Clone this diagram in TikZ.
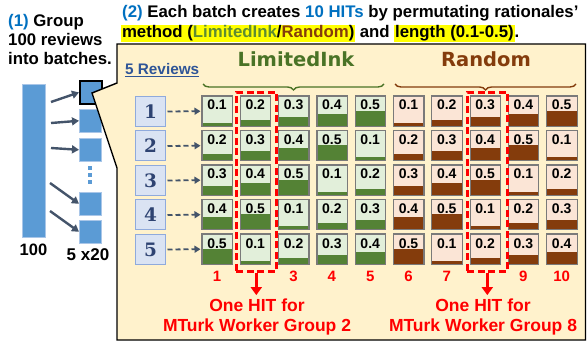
\documentclass[tikz,border=0pt]{standalone}
\usepackage{fontspec}
\setmainfont{Liberation Sans}
\newfontfamily\dvs{DejaVu Sans}
\newfontfamily\dvserif{DejaVu Serif}
\usetikzlibrary{decorations.pathreplacing,arrows.meta}
\newcommand\myfs[1]{\fontsize{#1}{#1}\selectfont}
\newcommand\myhl[1]{{\setlength\fboxsep{0.8pt}\colorbox{hlyellow}{#1}}}
\definecolor{tblue}{HTML}{0070C0}
\definecolor{barblue}{HTML}{5B9BD5}
\definecolor{arrgray}{HTML}{44546A}
\definecolor{callout}{HTML}{FFF2CC}
\definecolor{gdark}{HTML}{548235}
\definecolor{glight}{HTML}{E2EFDA}
\definecolor{bdark}{HTML}{843C0C}
\definecolor{blight}{HTML}{FBE5D6}
\definecolor{hgreen}{HTML}{4A7326}
\definecolor{ingreen}{HTML}{5E8C31}
\definecolor{revblue}{HTML}{2F5597}
\definecolor{rvfill}{HTML}{DAE3F3}
\definecolor{rvdraw}{HTML}{8FAADC}
\definecolor{rvtext}{HTML}{2E4372}
\definecolor{hlyellow}{HTML}{FFFF00}
\definecolor{cellgray}{HTML}{7A7A7A}
\definecolor{sqedge}{HTML}{A9C6E8}
\begin{document}
\begin{tikzpicture}[x=1pt,y=-1pt,
  ttl/.style={anchor=base west,inner sep=0pt,font=\bfseries\myfs{16.8}},
  sqbox/.style={fill=barblue,draw=sqedge,line width=0.6pt,minimum width=22pt,minimum height=23pt,inner sep=0pt,anchor=north west},
  bigarr/.style={draw=arrgray,line width=2.4pt,-{Triangle[length=7pt,width=8pt]}},
  revbox/.style={fill=rvfill,draw=rvdraw,line width=1pt,minimum width=30pt,minimum height=30pt,inner sep=0pt,anchor=north west,font=\dvserif\bfseries\myfs{18.5},text=rvtext},
  cellbox/.style={minimum width=30pt,minimum height=30pt,inner sep=0pt,anchor=north west},
  celltxt/.style={anchor=base,inner sep=0pt,font=\bfseries\myfs{14}},
  darr/.style={draw=arrgray,line width=1.8pt,dash pattern=on 5pt off 3pt,-{Triangle[length=6pt,width=7pt]},shorten <=1.5pt,shorten >=1.5pt},
  colnum/.style={anchor=base,inner sep=0pt,text=red,font=\bfseries\myfs{15}},
  hitbox/.style={draw=red,line width=2.6pt,dash pattern=on 7pt off 3.5pt,minimum width=40pt,minimum height=179pt,inner sep=0pt,anchor=north west},
  redarr/.style={draw=red,line width=3pt,-{Triangle[length=8pt,width=11pt]},shorten >=3pt},
  redtxt/.style={anchor=base,inner sep=0pt,text=red,font=\bfseries\myfs{17.5}},
  hdr/.style={anchor=base,inner sep=0pt,font=\dvs\bfseries\myfs{19.5}},
  brc/.style={decorate,decoration={brace,mirror,amplitude=6pt},line width=1.4pt}
]
\useasboundingbox (0,0) rectangle (587,342);
% left part
\node[ttl] (t1a) at (8,27) {{\color{tblue}(1)} Group};
\node[ttl] (t1b) at (8,46) {100 reviews};
\node[ttl] (t1c) at (8,65) {into batches.};
\node[fill=barblue,draw=sqedge,line width=0.6pt,minimum width=23pt,minimum height=153pt,inner sep=0pt,anchor=north west] (bar) at (22,84) {};
\node[anchor=base,inner sep=0pt,font=\bfseries\myfs{16.5}] (l100) at (33.5,255) {100};
\node[sqbox,draw=black,line width=1.8pt] (sq1) at (79,80) {};
\node[sqbox] (sq2) at (79,109) {};
\node[sqbox] (sq3) at (79,138) {};
\node[sqbox] (sq4) at (79,192) {};
\node[sqbox] (sq5) at (79,220) {};
\foreach \yy in {166,173,180} \fill[barblue] (88,\yy) rectangle (92,\yy+4);
\node[anchor=base,inner sep=0pt,font=\bfseries\myfs{17}] (l520) at (88,260) {5 x20};
\coordinate (a1) at (51,102);
\coordinate (a2) at (51,123);
\coordinate (a3) at (51,148);
\coordinate (a4) at (50,183);
\coordinate (a5) at (50,211);
\draw[bigarr] (a1) -- (sq1.west);
\draw[bigarr] (a2) -- (sq2.west);
\draw[bigarr] (a3) -- (sq3.west);
\draw[bigarr] (a4) -- (sq4.west);
\draw[bigarr] (a5) -- (sq5.west);
% callout
\draw[fill=callout,line width=1.4pt,line join=miter] (117,44) -- (585.5,44) -- (585.5,340) -- (117,340) -- (117,168) -- (92,93) -- (117,83) -- cycle;
% title 2
\node[ttl] (t2a) at (122,18) {{\color{tblue}(2)} Each batch creates {\color{tblue}10 HITs} by permutating rationales’};
\node[ttl] (t2b) at (121,38) {\myhl{method ({\color{ingreen}LimitedInk}/{\color{bdark}Random})} and \myhl{length (0.1-0.5)}.};
\node[anchor=base west,inner sep=0pt,text=revblue,font=\bfseries\myfs{15.3}] (rev) at (125,75) {\underline{5 Reviews}};
\node[hdr,text=hgreen] (hL) at (296,67) {LimitedInk};
\node[hdr,text=bdark] (hR) at (486,67) {Random};
\draw[brc,hgreen] (203,84) -- (384,84);
\draw[brc,bdark] (395,84) -- (576,84);
% grid
\foreach \r in {1,...,5}{
  \pgfmathsetmacro\yy{96+34.5*(\r-1)}
  \node[revbox] (rv\r) at (135,\yy) {\r};
  \foreach \c in {1,...,10}{
    \pgfmathsetmacro\xx{202+38.3*(\c-1)}
    \pgfmathtruncatemacro\vv{mod(\r+\c-2,5)+1}
    \ifnum\c<6 \def\lc{glight}\def\dc{gdark}\else\def\lc{blight}\def\dc{bdark}\fi
    \node[cellbox,fill=\lc] (c\r-\c) at (\xx,\yy) {};
    \fill[\dc] (\xx,\yy+30-3*\vv) rectangle (\xx+30,\yy+30);
    \draw[cellgray,line width=1.2pt] (c\r-\c.north west) rectangle (c\r-\c.south east);
    \node[celltxt] (v\r-\c) at (\xx+15,\yy+14) {0.\vv};
  }
  \draw[darr] (rv\r.east) -- (c\r-1.west);
}
\foreach \c in {1,3,4,5,6,7,9,10}{
  \pgfmathsetmacro\xx{217+38.3*(\c-1)}
  \node[colnum] (n\c) at (\xx,281) {\c};
}
% HIT boxes
\node[hitbox] (h1) at (235,91) {};
\node[hitbox] (h2) at (466,91) {};
\node[redtxt] (o1) at (257,311) {One HIT for};
\node[redtxt] (m1) at (257,331) {MTurk Worker Group 2};
\node[redtxt] (o2) at (483,311) {One HIT for};
\node[redtxt] (m2) at (483,331) {MTurk Worker Group 8};
\draw[redarr] (h1.south) -- (h1.south |- o1.north);
\draw[redarr] (h2.south) -- (h2.south |- o2.north);
\end{tikzpicture}
\end{document}
